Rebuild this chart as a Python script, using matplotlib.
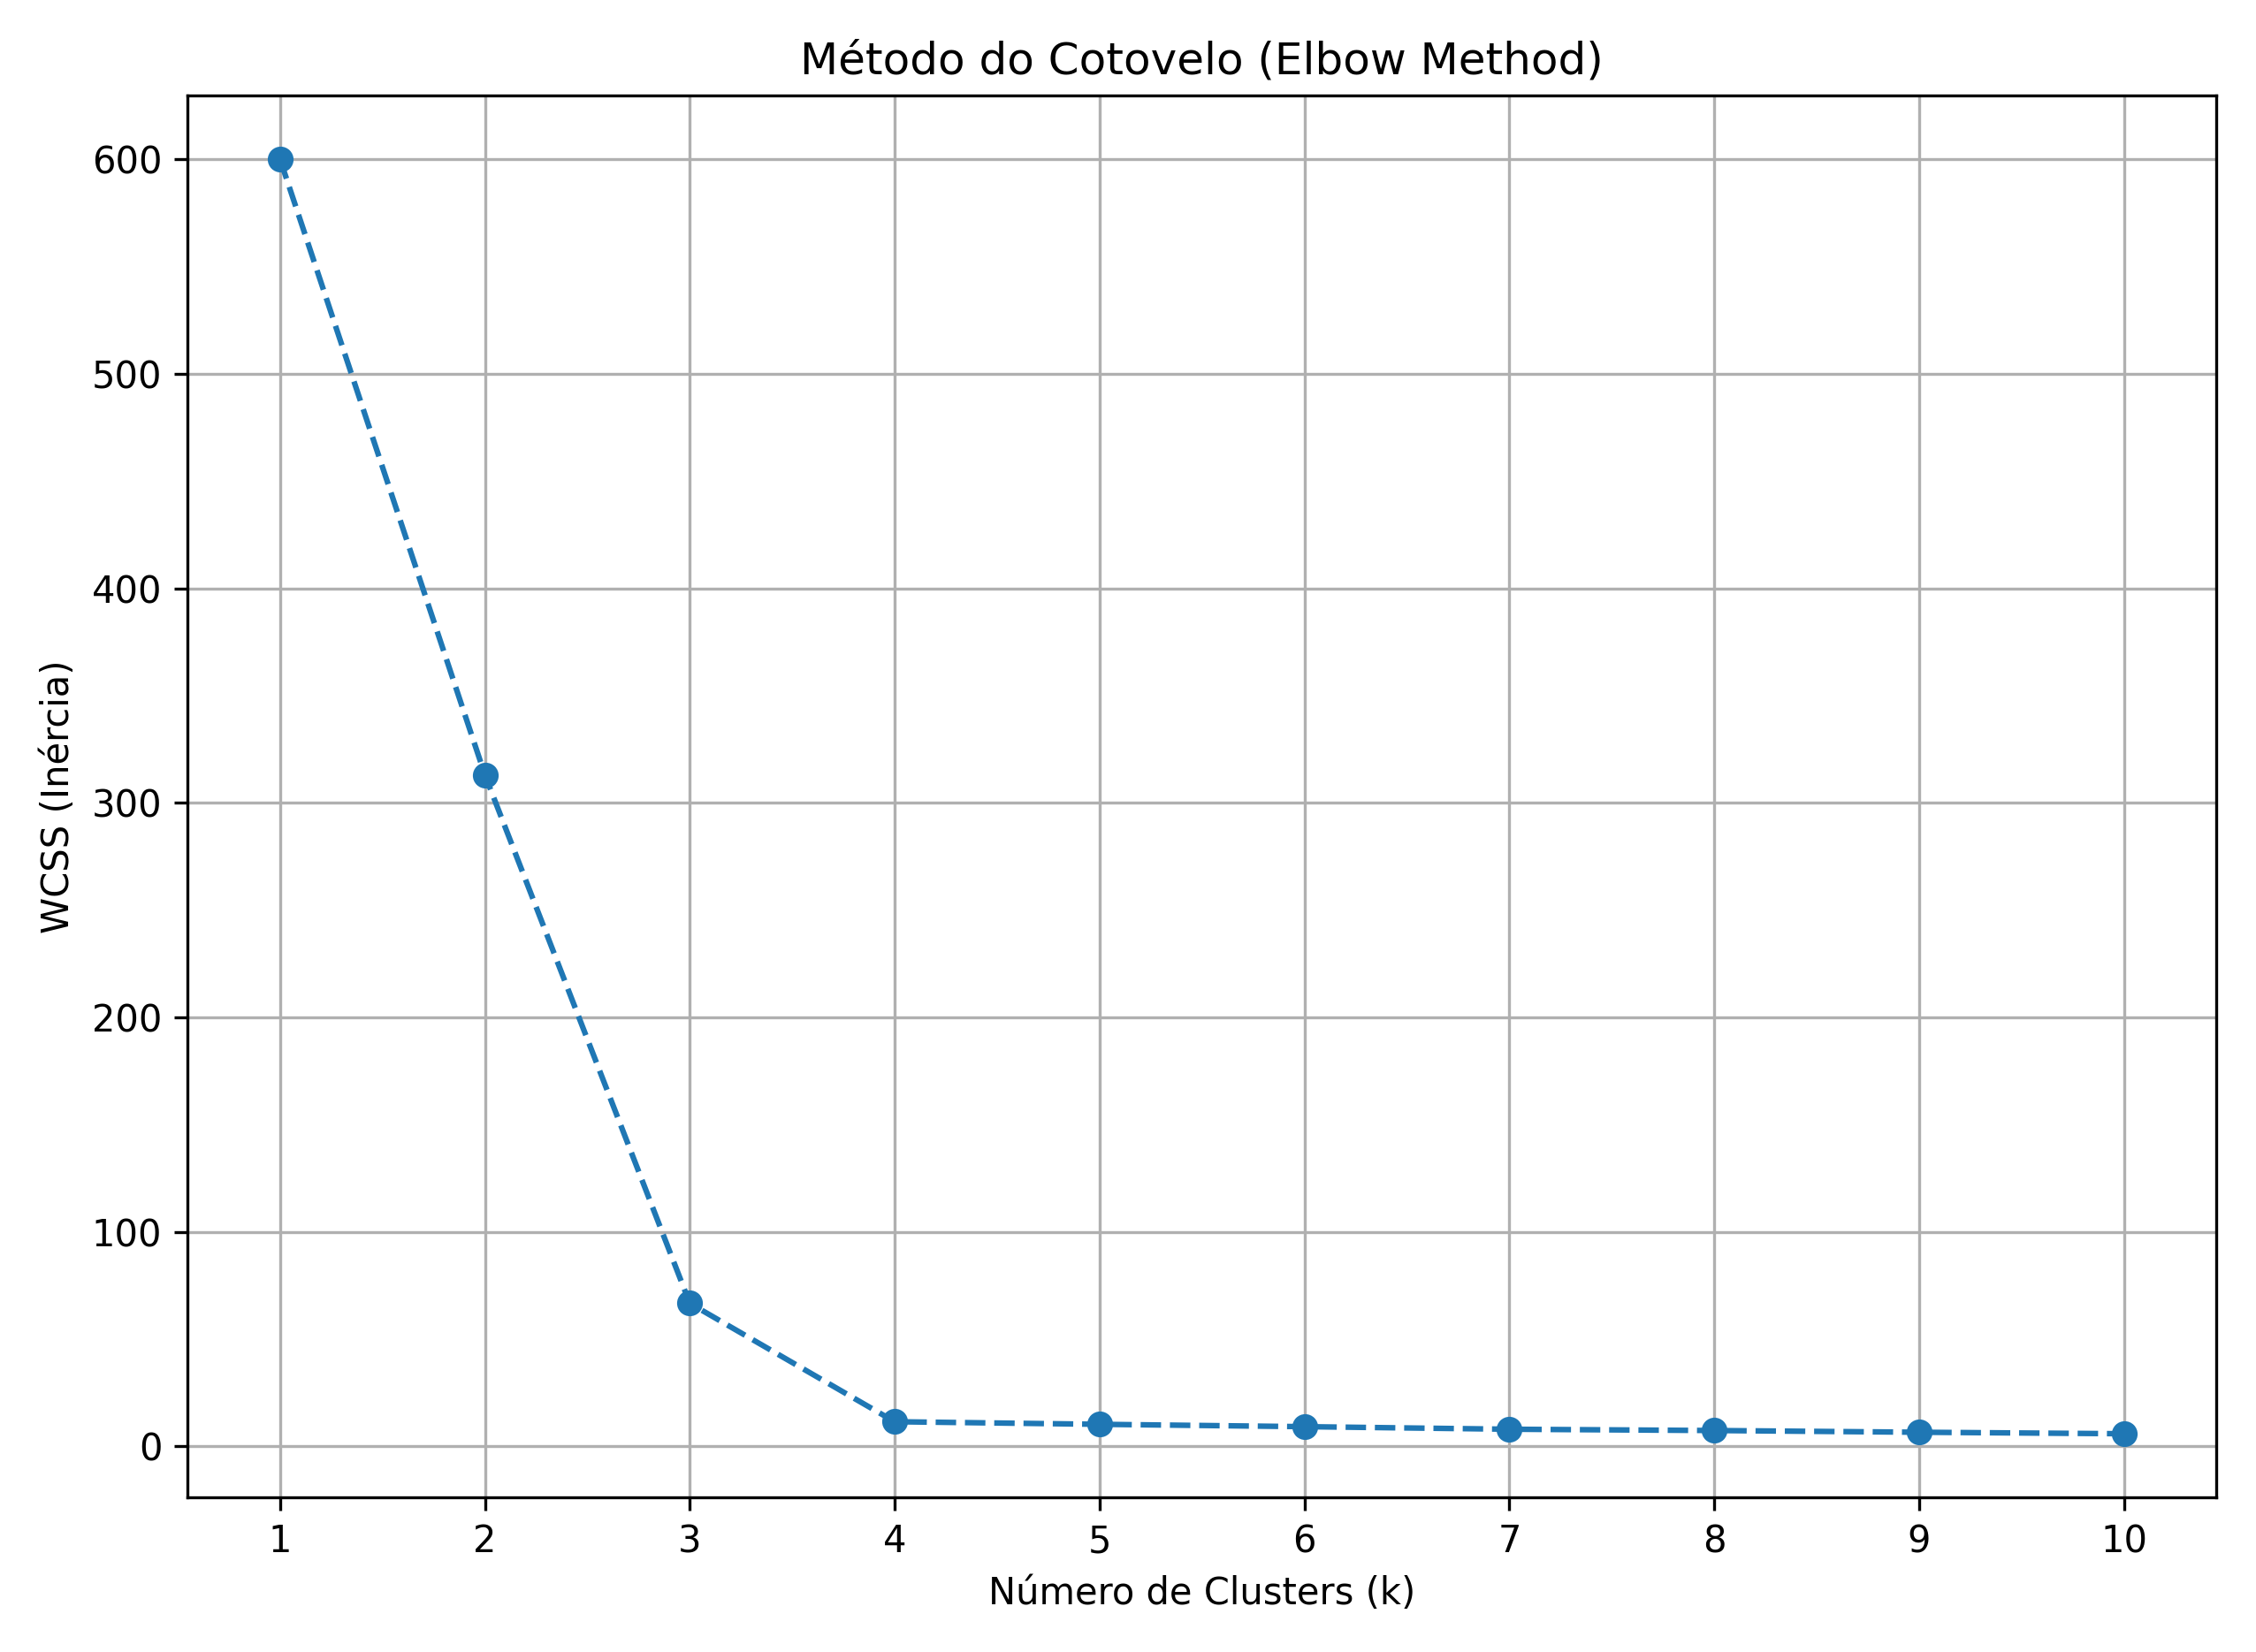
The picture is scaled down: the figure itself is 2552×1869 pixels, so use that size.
import matplotlib
matplotlib.use("Agg")
import matplotlib.pyplot as plt

k = list(range(1, 11))
wcss = [600.0, 313.0, 66.7, 11.5, 10.3, 9.2, 8.0, 7.4, 6.6, 5.9]

fig, ax = plt.subplots(figsize=(2552/300, 1869/300), dpi=300)
ax.plot(k, wcss, marker='o', linestyle='--')
ax.set_title('Método do Cotovelo (Elbow Method)')
ax.set_xlabel('Número de Clusters (k)')
ax.set_ylabel('WCSS (Inércia)')
ax.set_xticks(k)
ax.grid(True)
fig.tight_layout()
fig.savefig('out.png', dpi=300)
